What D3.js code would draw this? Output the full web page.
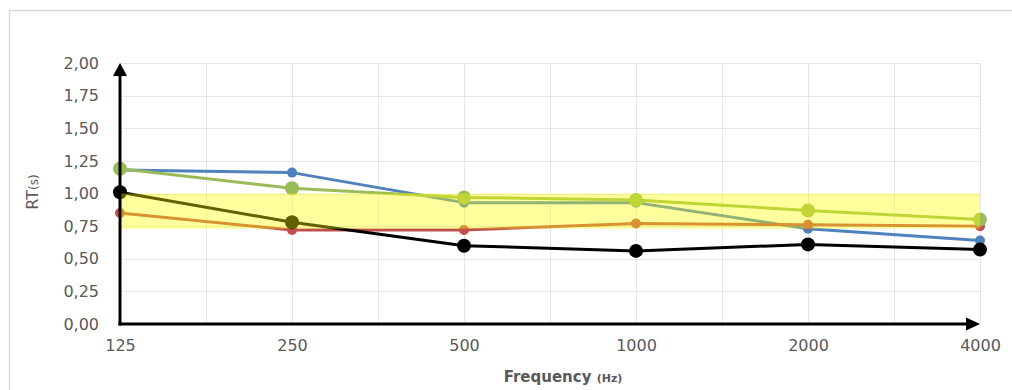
<!DOCTYPE html>
<html>
<head>
<meta charset="utf-8">
<script src="https://cdn.jsdelivr.net/npm/d3@7"></script>
<style>
  html, body { margin: 0; padding: 0; background: #fff; }
  svg { display: block; }
</style>
</head>
<body>
<svg id="chart" width="1012" height="390"></svg>
<script>
// Octave-band centre frequencies (Hz)
const frequencies = ["125", "250", "500", "1000", "2000", "4000"];

// Reverberation time per band (s)
const rtBlue  = [1.18, 1.16, 0.93, 0.93, 0.73, 0.64];
const rtRed   = [0.85, 0.72, 0.72, 0.77, 0.76, 0.75];
const rtGreen = [1.19, 1.04, 0.97, 0.95, 0.87, 0.80];
const rtBlack = [1.01, 0.78, 0.60, 0.56, 0.61, 0.57];

// Recommended RT range
const targetRange = [0.73, 1.00];

const yTicks = [0, 0.25, 0.5, 0.75, 1.0, 1.25, 1.5, 1.75, 2.0];

const series = [
  { name: "blue",  values: rtBlue,  color: "#4f81bd", r: 5 },
  { name: "red",   values: rtRed,   color: "#c0504d", r: 5 },
  { name: "green", values: rtGreen, color: "#9bbb59", r: 7 },
  { name: "black", values: rtBlack, color: "#000000", r: 7 }
];

const svg = d3.select("#chart");
const plotLeft = 120, plotRight = 980, plotTop = 63, plotBottom = 324;
const font = "'DejaVu Sans', sans-serif";

const x = d3.scalePoint().domain(frequencies).range([plotLeft, plotRight]);
const y = d3.scaleLinear().domain([0, 2]).range([plotBottom, plotTop]);

// outer frame of the chart area
svg.append("path")
  .attr("d", "M9.5,400 L9.5,10.5 L1020,10.5")
  .attr("fill", "none").attr("stroke", "#d9d9d9").attr("stroke-width", 1.5);

// gridlines
const grid = svg.append("g");
grid.selectAll("line.h").data(yTicks).join("line")
  .attr("x1", plotLeft).attr("x2", plotRight)
  .attr("y1", d => Math.round(y(d)) + 0.5).attr("y2", d => Math.round(y(d)) + 0.5)
  .attr("stroke", "#e6e6e6").attr("stroke-width", 1);
const step = x.step();
const vGrid = d3.range(0, frequencies.length * 2 - 1).map(i => plotLeft + i * step / 2);
grid.selectAll("line.v").data(vGrid).join("line")
  .attr("x1", d => Math.round(d) + 0.5).attr("x2", d => Math.round(d) + 0.5)
  .attr("y1", plotTop).attr("y2", plotBottom)
  .attr("stroke", "#e6e6e6").attr("stroke-width", 1);

// y tick labels
const yAxis = d3.axisLeft(y).tickValues(yTicks).tickSize(0).tickPadding(0)
  .tickFormat(d => d3.format(".2f")(d).replace(".", ","));
const gy = svg.append("g").attr("transform", `translate(${plotLeft - 21},0)`).call(yAxis);
gy.select(".domain").remove();
gy.selectAll("text").attr("font-family", font).attr("font-size", 16).attr("fill", "#595959");

// x tick labels
const xAxis = d3.axisBottom(x).tickSize(0).tickPadding(0);
const gx = svg.append("g").attr("transform", `translate(0,${plotBottom + 16})`).call(xAxis);
gx.select(".domain").remove();
gx.selectAll("text").attr("font-family", font).attr("font-size", 16).attr("fill", "#595959");

// series lines and markers
const line = d3.line().x((d, i) => x(frequencies[i])).y(d => y(d));
series.forEach(s => {
  const g = svg.append("g");
  g.append("path").datum(s.values)
    .attr("d", line).attr("fill", "none")
    .attr("stroke", s.color).attr("stroke-width", 3).attr("stroke-linejoin", "round");
  g.selectAll("circle").data(s.values).join("circle")
    .attr("cx", (d, i) => x(frequencies[i])).attr("cy", d => y(d))
    .attr("r", s.r).attr("fill", s.color);
});

// translucent band for the recommended range
svg.append("rect")
  .attr("x", plotLeft).attr("width", plotRight - plotLeft)
  .attr("y", y(targetRange[1])).attr("height", y(targetRange[0]) - y(targetRange[1]))
  .attr("fill", "#ffff00").attr("fill-opacity", 0.38);

// axes with arrow heads
const axes = svg.append("g");
axes.append("line").attr("x1", plotLeft).attr("x2", plotLeft)
  .attr("y1", plotBottom + 1.5).attr("y2", y(2) + 10)
  .attr("stroke", "#000").attr("stroke-width", 3);
axes.append("path")
  .attr("d", `M${plotLeft},${y(2)} L${plotLeft + 7},${y(2) + 13} L${plotLeft - 7},${y(2) + 13} Z`)
  .attr("fill", "#000");
axes.append("line").attr("x1", plotLeft - 1.5).attr("x2", plotRight - 10)
  .attr("y1", plotBottom).attr("y2", plotBottom)
  .attr("stroke", "#000").attr("stroke-width", 3);
axes.append("path")
  .attr("d", `M${plotRight},${plotBottom} L${plotRight - 14},${plotBottom - 6.5} L${plotRight - 14},${plotBottom + 6.5} Z`)
  .attr("fill", "#000");

// axis titles
const xt = svg.append("text")
  .attr("x", 563).attr("y", 382).attr("text-anchor", "middle")
  .attr("font-family", font).attr("font-size", 15).attr("font-weight", "bold").attr("fill", "#595959");
xt.append("tspan").text("Frequency ");
xt.append("tspan").attr("font-size", 11).text("(Hz)");

const yt = svg.append("text")
  .attr("transform", "translate(38,192) rotate(-90)").attr("text-anchor", "middle")
  .attr("font-family", font).attr("font-size", 16).attr("fill", "#595959");
yt.append("tspan").text("RT");
yt.append("tspan").attr("font-size", 12).text("(s)");
</script>
</body>
</html>
